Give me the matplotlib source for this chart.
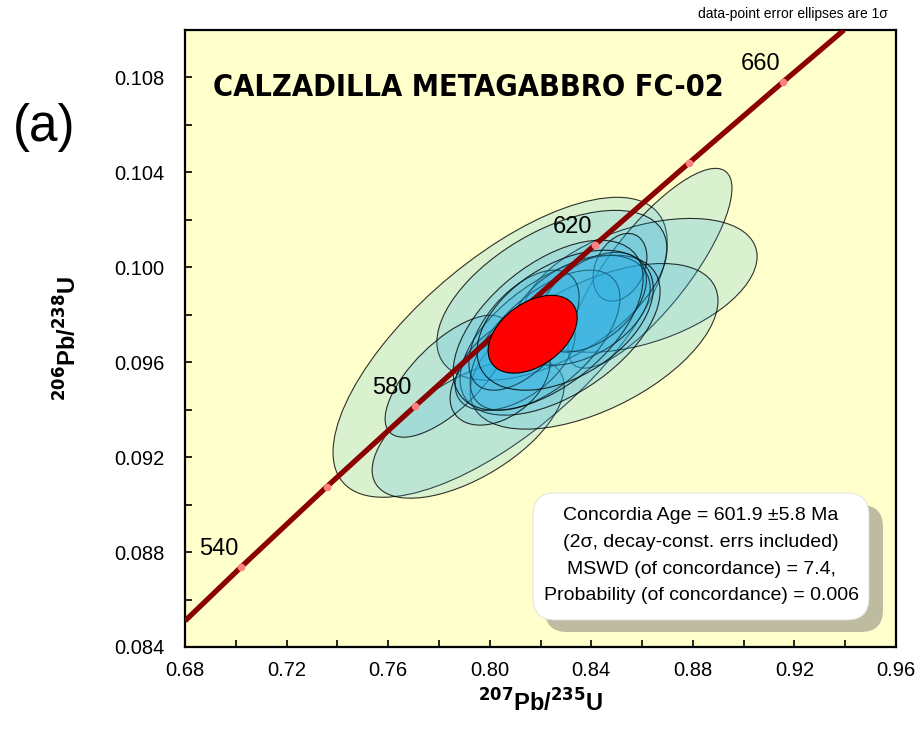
import numpy as np
import matplotlib
matplotlib.use("Agg")
import matplotlib.pyplot as plt
from matplotlib.patches import Ellipse, FancyBboxPatch
from matplotlib.transforms import Affine2D
from matplotlib.ticker import MultipleLocator, FormatStrFormatter

# ---------------- data ----------------
# concordia curve: age ticks (Ma) and their ratios
conc_ages = [540, 560, 580, 600, 620, 640, 660]
labelled_ages = [540, 580, 620, 660]
conc_x = [0.7022, 0.7359, 0.7705, 0.8057, 0.8416, 0.8783, 0.9155]
conc_y = [0.08738, 0.09076, 0.09414, 0.09754, 0.10096, 0.10438, 0.10781]
# visible ends of the concordia line
line_start_x, line_start_y = 0.680, 0.0851
line_end_x, line_end_y = 0.9395, 0.1100

# data-point error ellipses (1 sigma): centre, sigmas, correlation
ell_x = [0.8041, 0.7915, 0.8631, 0.8592, 0.8411, 0.8245, 0.7832,
         0.8513, 0.8277, 0.8100, 0.8218, 0.8356, 0.8041, 0.8400, 0.8135,
         0.8230, 0.8297]
ell_y = [0.09663, 0.09322, 0.09996, 0.09924, 0.09667, 0.09882, 0.09541,
         0.10000, 0.09714, 0.09608, 0.09693, 0.09819, 0.09524, 0.09853, 0.09735,
         0.09756, 0.09777]
ell_sx = [0.0658, 0.0378, 0.0323, 0.0461, 0.0488, 0.0453, 0.0244,
          0.0106, 0.0394, 0.0236, 0.0295, 0.0276, 0.0197, 0.0217, 0.0217,
          0.0374, 0.0347]
ell_sy = [0.00632, 0.00295, 0.00421, 0.00282, 0.00349, 0.00358, 0.00257,
          0.00143, 0.00337, 0.00211, 0.00295, 0.00232, 0.00189, 0.00210, 0.00253,
          0.00358, 0.00295]
ell_rho = [0.70, 0.60, 0.80, 0.43, 0.55, 0.55, 0.70,
           0.30, 0.55, 0.50, 0.60, 0.40, 0.40, 0.45, 0.55,
           0.55, 0.45]

# concordia-age ellipse
ca_x, ca_y, ca_sx, ca_sy, ca_rho = 0.8169, 0.09718, 0.01753, 0.00164, 0.42

title_text = "CALZADILLA METAGABBRO FC-02"
box_lines = ["Concordia Age = 601.9 \u00b15.8 Ma",
             "(2\u03c3, decay-const. errs included)",
             "MSWD (of concordance) = 7.4,",
             "Probability (of concordance) = 0.006"]

# ---------------- figure ----------------
plt.rcParams['font.family'] = ['Liberation Sans', 'DejaVu Sans']
W, H = 922, 731
fig = plt.figure(figsize=(W / 100, H / 100), dpi=100)
fig.patch.set_facecolor('white')
ax = fig.add_axes([185 / W, 1 - 647 / H, 711 / W, 617 / H])
ax.set_facecolor('#ffffcc')
ax.set_xlim(0.68, 0.96)
ax.set_ylim(0.084, 0.110)


def cov_ellipse(x, y, sx, sy, rho, **kw):
    cov = np.array([[sx * sx, rho * sx * sy], [rho * sx * sy, sy * sy]])
    vals, vecs = np.linalg.eigh(cov)
    width = 2 * np.sqrt(vals[1])
    height = 2 * np.sqrt(vals[0])
    angle = np.degrees(np.arctan2(vecs[1, 1], vecs[0, 1]))
    return Ellipse((x, y), width, height, angle=angle, **kw)


for x, y, sx, sy, r in zip(ell_x, ell_y, ell_sx, ell_sy, ell_rho):
    ax.add_patch(cov_ellipse(x, y, sx, sy, r, facecolor=(0.16, 0.69, 0.90, 0.17),
                             edgecolor=(0, 0, 0, 0.8), linewidth=0.8, zorder=2))

# concordia line
lx = [line_start_x] + conc_x + [line_end_x]
ly = [line_start_y] + conc_y + [line_end_y]
ax.plot(lx, ly, color='#8b0000', linewidth=3.8, solid_capstyle='butt', zorder=3)
ax.plot(conc_x, conc_y, linestyle='none', marker='o', markersize=5.5,
        markerfacecolor='#ff8080', markeredgecolor='none', zorder=4)
for a, x, y in zip(conc_ages, conc_x, conc_y):
    if a in labelled_ages:
        ax.annotate(str(a), (x, y), xytext=(-3, 7), textcoords='offset pixels',
                    ha='right', va='bottom', fontsize=17, zorder=5)

# concordia age ellipse
ax.add_patch(cov_ellipse(ca_x, ca_y, ca_sx, ca_sy, ca_rho, facecolor='#ff0000',
                         edgecolor='black', linewidth=0.8, zorder=6))

# axes styling
for s in ax.spines.values():
    s.set_linewidth(1.6)
    s.set_color('black')
ax.xaxis.set_major_locator(MultipleLocator(0.04))
ax.xaxis.set_minor_locator(MultipleLocator(0.02))
ax.yaxis.set_major_locator(MultipleLocator(0.004))
ax.yaxis.set_minor_locator(MultipleLocator(0.002))
ax.xaxis.set_major_formatter(FormatStrFormatter('%.2f'))
ax.yaxis.set_major_formatter(FormatStrFormatter('%.3f'))
ax.tick_params(which='both', direction='in', top=False, right=False,
               length=5, width=1.2, labelsize=14.5)
ax.tick_params(axis='y', which='major', pad=15)
ax.tick_params(axis='x', which='major', pad=10)

ax.set_xlabel(r'$^{\mathbf{207}}$Pb/$^{\mathbf{235}}$U', fontsize=17, fontweight='bold')
ax.set_ylabel(r'$^{\mathbf{206}}$Pb/$^{\mathbf{238}}$U', fontsize=17, fontweight='bold')
ax.yaxis.set_label_coords(68 / W, 1 - 338 / H, transform=fig.transFigure)
ax.xaxis.set_label_coords(540.5 / W, 1 - 703 / H, transform=fig.transFigure)
ax.xaxis.label.set_verticalalignment('center')
ax.yaxis.label.set_verticalalignment('center')

# title inside plot
fig.text(213 / W, 1 - 88 / H, title_text, ha='left', va='center', fontsize=22,
         fontweight='bold', fontstretch='condensed',
         family=['Liberation Sans Narrow', 'DejaVu Sans'])
fig.text(888 / W, 1 - 14 / H, 'data-point error ellipses are 1\u03c3', ha='right',
         va='center', fontsize=10)
fig.text(44 / W, 1 - 128 / H, '(a)', ha='center', va='center', fontsize=37)

# results box with shadow (pixel coordinates)
pix = Affine2D()
shadow = FancyBboxPatch((545, H - 632), 338, 127,
                        boxstyle='round,pad=0,rounding_size=22',
                        facecolor='#bdbca0', edgecolor='none', transform=pix, zorder=7)
box = FancyBboxPatch((533, H - 620), 336, 127,
                     boxstyle='round,pad=0,rounding_size=22',
                     facecolor='white', edgecolor='#dddddd', linewidth=0.6,
                     transform=pix, zorder=8)
fig.add_artist(shadow)
fig.add_artist(box)
for i, line in enumerate(box_lines):
    fig.text(701 / W, 1 - (516 + 26.5 * i) / H, line, ha='center', va='center',
             fontsize=14, zorder=9)

fig.savefig('out.png', dpi=100)
